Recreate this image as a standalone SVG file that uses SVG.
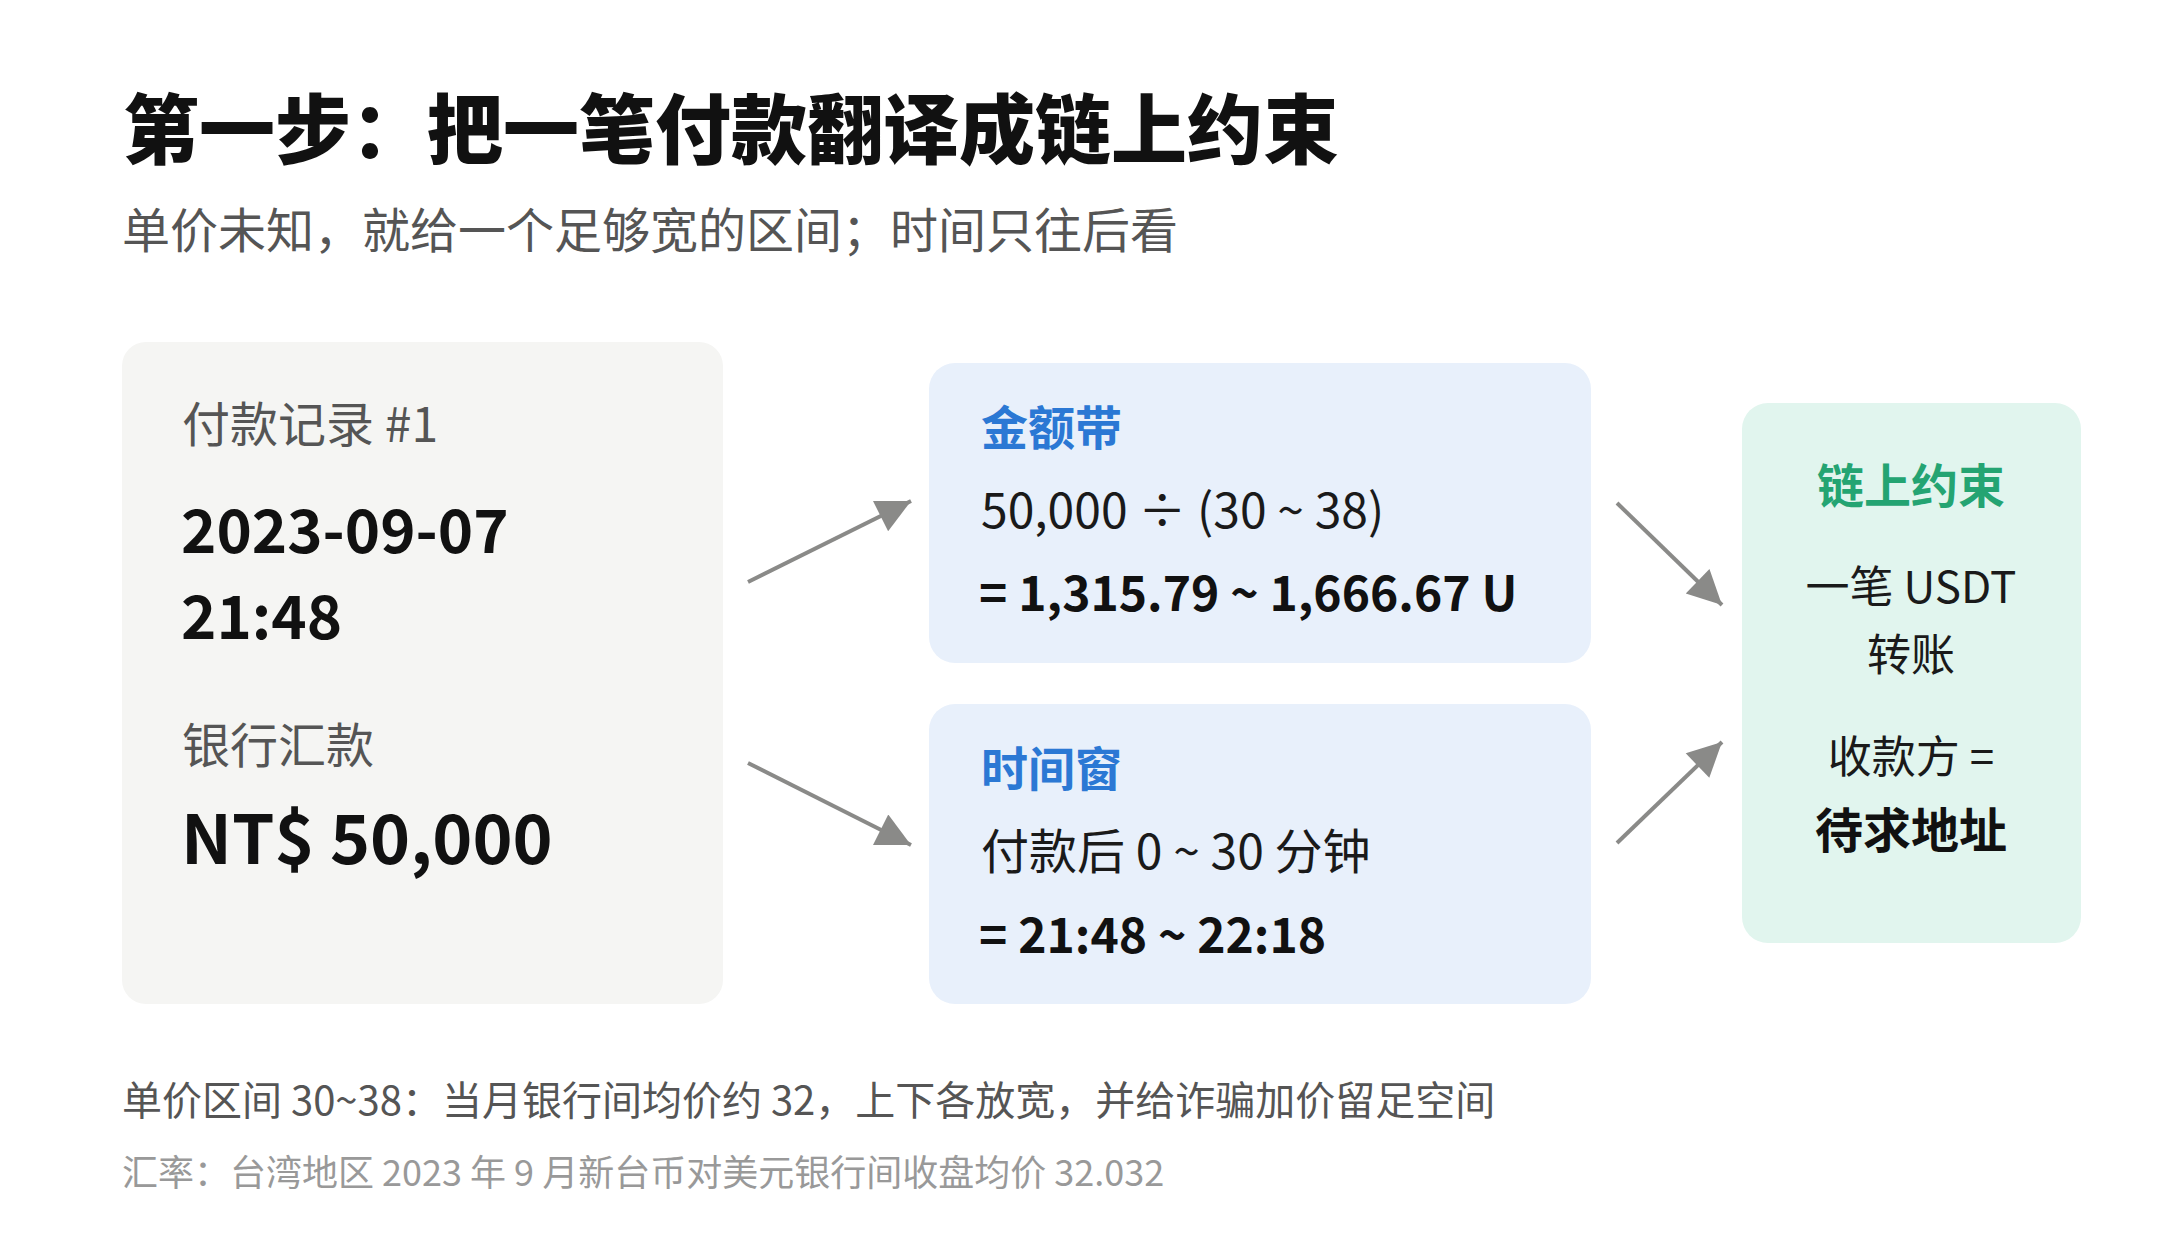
<svg xmlns="http://www.w3.org/2000/svg" width="2160" height="1240" viewBox="0 0 2160 1240">
<style>
text{font-family:"Noto Sans CJK SC","Noto Sans",sans-serif;}
.title{font-size:76px;font-weight:900;fill:#111;}
.sub{font-size:48px;fill:#555;}
.lbl{font-size:48px;fill:#555;}
.big{font-size:60px;font-weight:700;fill:#111;}
.huge{font-size:68px;font-weight:700;fill:#111;}
.hblue{font-size:47px;font-weight:700;fill:#2b78d4;}
.hgreen{font-size:47px;font-weight:700;fill:#24a472;}
.reg{font-size:44px;fill:#1a1a1a;}
.regm{font-size:48px;fill:#1a1a1a;}
.bold{font-size:48px;font-weight:700;fill:#111;}
.note1{font-size:40px;fill:#555;}
.note2{font-size:36px;fill:#999;}
.conn{stroke:#8a8a88;stroke-width:4;fill:none;}
</style>
<defs>
<marker id="ah" viewBox="0 0 10 10" refX="10" refY="5" markerWidth="36" markerHeight="34" markerUnits="userSpaceOnUse" orient="auto">
<path d="M0,0 L10,5 L0,10 z" fill="#8a8a88"/>
</marker>
</defs>
<rect width="2160" height="1240" fill="#ffffff"/>
<g id="header">
<text class="title" x="123" y="158">第一步：把一笔付款翻译成链上约束</text>
<text class="sub" x="122" y="248">单价未知，就给一个足够宽的区间；时间只往后看</text>
</g>
<g id="payment">
<rect x="122" y="342" width="601" height="662" rx="24" fill="#f5f5f3"/>
<text class="lbl" x="182" y="442">付款记录 #1</text>
<text class="big" x="181" y="553">2023-09-07</text>
<text class="big" x="181" y="639">21:48</text>
<text class="lbl" x="182" y="763">银行汇款</text>
<text class="huge" x="181" y="864">NT$ 50,000</text>
</g>
<g id="amount">
<rect x="929" y="363" width="662" height="300" rx="26" fill="#e8f0fb"/>
<text class="hblue" x="981" y="445">金额带</text>
<text class="regm" x="981" y="528">50,000 ÷ (30 ~ 38)</text>
<text class="bold" x="979" y="611">= 1,315.79 ~ 1,666.67 U</text>
</g>
<g id="timewin">
<rect x="929" y="704" width="662" height="300" rx="26" fill="#e8f0fb"/>
<text class="hblue" x="981" y="786">时间窗</text>
<text class="regm" x="981" y="869">付款后 0 ~ 30 分钟</text>
<text class="bold" x="979" y="953">= 21:48 ~ 22:18</text>
</g>
<g id="onchain">
<rect x="1742" y="403" width="339" height="540" rx="26" fill="#e1f5ee"/>
<text class="hgreen" x="1911" y="503" text-anchor="middle">链上约束</text>
<text class="reg" x="1911" y="603" text-anchor="middle">一笔 USDT</text>
<text class="reg" x="1911" y="671" text-anchor="middle">转账</text>
<text class="reg" x="1911" y="773" text-anchor="middle">收款方 =</text>
<text class="bold" x="1911" y="848" text-anchor="middle">待求地址</text>
</g>
<g id="connectors">
<line class="conn" x1="748" y1="582" x2="911" y2="501" marker-end="url(#ah)"/>
<line class="conn" x1="748" y1="763" x2="911" y2="845" marker-end="url(#ah)"/>
<line class="conn" x1="1617" y1="503" x2="1722" y2="605" marker-end="url(#ah)"/>
<line class="conn" x1="1617" y1="843" x2="1722" y2="742" marker-end="url(#ah)"/>
</g>
<g id="footer">
<text class="note1" x="122" y="1115">单价区间 30~38：当月银行间均价约 32，上下各放宽，并给诈骗加价留足空间</text>
<text class="note2" x="122" y="1186">汇率：台湾地区 2023 年 9 月新台币对美元银行间收盘均价 32.032</text>
</g>
</svg>
